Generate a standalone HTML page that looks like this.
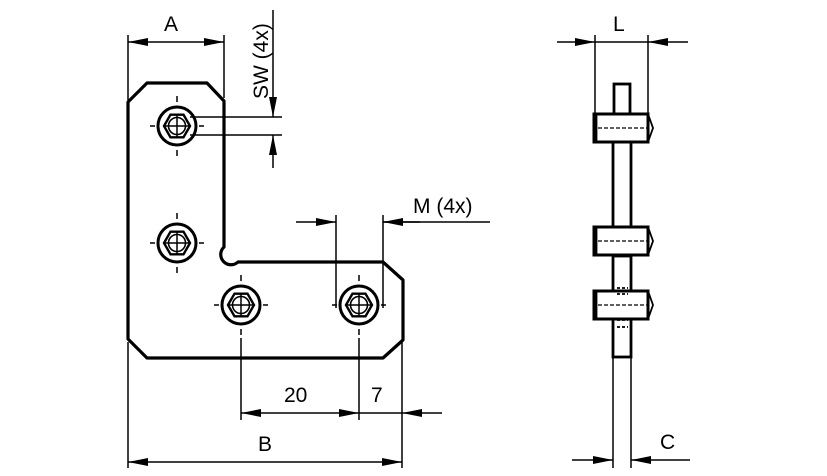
<!DOCTYPE html>
<html><head><meta charset="utf-8"><style>
html,body{margin:0;padding:0;background:#fff;}
svg{display:block;}
text{font-family:"Liberation Sans",sans-serif;font-size:21px;fill:#000;}
</style></head><body>
<svg width="827" height="476" viewBox="0 0 827 476" xmlns="http://www.w3.org/2000/svg">
<defs>
<marker id="ar" viewBox="0 0 20 8" refX="20" refY="4" markerWidth="20" markerHeight="8" orient="auto" markerUnits="userSpaceOnUse"><path d="M0,0 L20,4 L0,8Z" fill="#000"/></marker>
<g id="hole">
<circle r="19" fill="none" stroke="#000" stroke-width="3"/>
<polygon points="-13,0 -6.5,-11.3 6.5,-11.3 13,0 6.5,11.3 -6.5,11.3" fill="none" stroke="#000" stroke-width="2.4"/>
<circle r="8.5" fill="none" stroke="#000" stroke-width="1.6"/>
<line x1="-13" y1="0" x2="13" y2="0" stroke="#000" stroke-width="1.5"/>
<line x1="0" y1="-12" x2="0" y2="12" stroke="#000" stroke-width="1.5"/>
<g stroke="#000" stroke-width="1.5">
<line x1="-27" y1="0" x2="-22" y2="0"/><line x1="22" y1="0" x2="27" y2="0"/>
<line x1="0" y1="-30" x2="0" y2="-24"/><line x1="0" y1="24" x2="0" y2="30"/>
</g>
</g>
</defs>
<path d="M128,102 L147,83 L207,83 L224,101 L224,247 A6.5,6.5 0 1 0 238,262 L383,262 L403,280 L403,340 L383,358 L147,358 L128,339 Z" fill="none" stroke="#000" stroke-width="3.2" stroke-linejoin="round"/>
<use href="#hole" x="177" y="126"/>
<use href="#hole" x="177" y="243"/>
<use href="#hole" x="241" y="305"/>
<use href="#hole" x="359" y="305"/>
<g stroke="#000" stroke-width="1.5" fill="none">
<line x1="128" y1="35" x2="128" y2="100"/>
<line x1="224" y1="35" x2="224" y2="98"/>
<line x1="150" y1="42" x2="128" y2="42" marker-end="url(#ar)"/>
<line x1="200" y1="42" x2="224" y2="42" marker-end="url(#ar)"/>
<line x1="150" y1="42" x2="200" y2="42"/>
<line x1="190" y1="117" x2="282" y2="117"/>
<line x1="190" y1="135" x2="282" y2="135"/>
<line x1="273" y1="10" x2="273" y2="117" marker-end="url(#ar)"/>
<line x1="273" y1="168" x2="273" y2="135" marker-end="url(#ar)"/>
<line x1="336" y1="215" x2="336" y2="308"/>
<line x1="383" y1="215" x2="383" y2="308"/>
<line x1="296" y1="222" x2="336" y2="222" marker-end="url(#ar)"/>
<line x1="420" y1="222" x2="383" y2="222" marker-end="url(#ar)"/>
<line x1="383" y1="222" x2="490" y2="222"/>
<line x1="241" y1="338" x2="241" y2="420"/>
<line x1="359" y1="338" x2="359" y2="420"/>
<line x1="128" y1="342" x2="128" y2="468"/>
<line x1="402" y1="342" x2="402" y2="468"/>
<line x1="300" y1="413" x2="241" y2="413" marker-end="url(#ar)"/>
<line x1="300" y1="413" x2="359" y2="413" marker-end="url(#ar)"/>
<line x1="442" y1="413" x2="402" y2="413" marker-end="url(#ar)"/>
<line x1="359" y1="413" x2="402" y2="413"/>
<line x1="265" y1="462" x2="128" y2="462" marker-end="url(#ar)"/>
<line x1="265" y1="462" x2="402" y2="462" marker-end="url(#ar)"/>
<line x1="595" y1="35" x2="595" y2="113"/>
<line x1="648" y1="35" x2="648" y2="113"/>
<line x1="557" y1="42" x2="595" y2="42" marker-end="url(#ar)"/>
<line x1="688" y1="42" x2="648" y2="42" marker-end="url(#ar)"/>
<line x1="595" y1="42" x2="648" y2="42"/>
<line x1="613" y1="357" x2="613" y2="468"/>
<line x1="631" y1="357" x2="631" y2="468"/>
<line x1="572" y1="460" x2="613" y2="460" marker-end="url(#ar)"/>
<line x1="690" y1="460" x2="631" y2="460" marker-end="url(#ar)"/>
</g>
<g stroke="#000" stroke-width="2.8" fill="none">
<rect x="614" y="84" width="16" height="30"/>
<rect x="613" y="142" width="18" height="85"/>
<rect x="613" y="256" width="18" height="101"/>
<g id="nut">
<rect x="594" y="114" width="54" height="28" fill="#fff" stroke-width="3"/>
<line x1="596" y1="114" x2="596" y2="142"/>
<polyline points="648,114 653,128 648,142" stroke-width="1.8"/>
<line x1="598" y1="128" x2="648" y2="128" stroke-width="1.2" stroke-dasharray="4,2"/>
</g>
<use href="#nut" y="113"/>
<use href="#nut" y="177"/>
<g stroke-width="1.8" stroke-dasharray="3,2">
<line x1="617" y1="288" x2="628" y2="288"/><line x1="617" y1="294" x2="628" y2="294"/>
<line x1="617" y1="320" x2="628" y2="320"/><line x1="617" y1="327" x2="628" y2="327"/>
</g>
</g>
<text x="164" y="31">A</text>
<text transform="translate(268,99) rotate(-90)">SW (4x)</text>
<text x="413" y="213">M (4x)</text>
<text x="284" y="402">20</text>
<text x="371" y="402">7</text>
<text x="258" y="451">B</text>
<text x="613" y="31">L</text>
<text x="660" y="449">C</text>
</svg>
</body></html>
